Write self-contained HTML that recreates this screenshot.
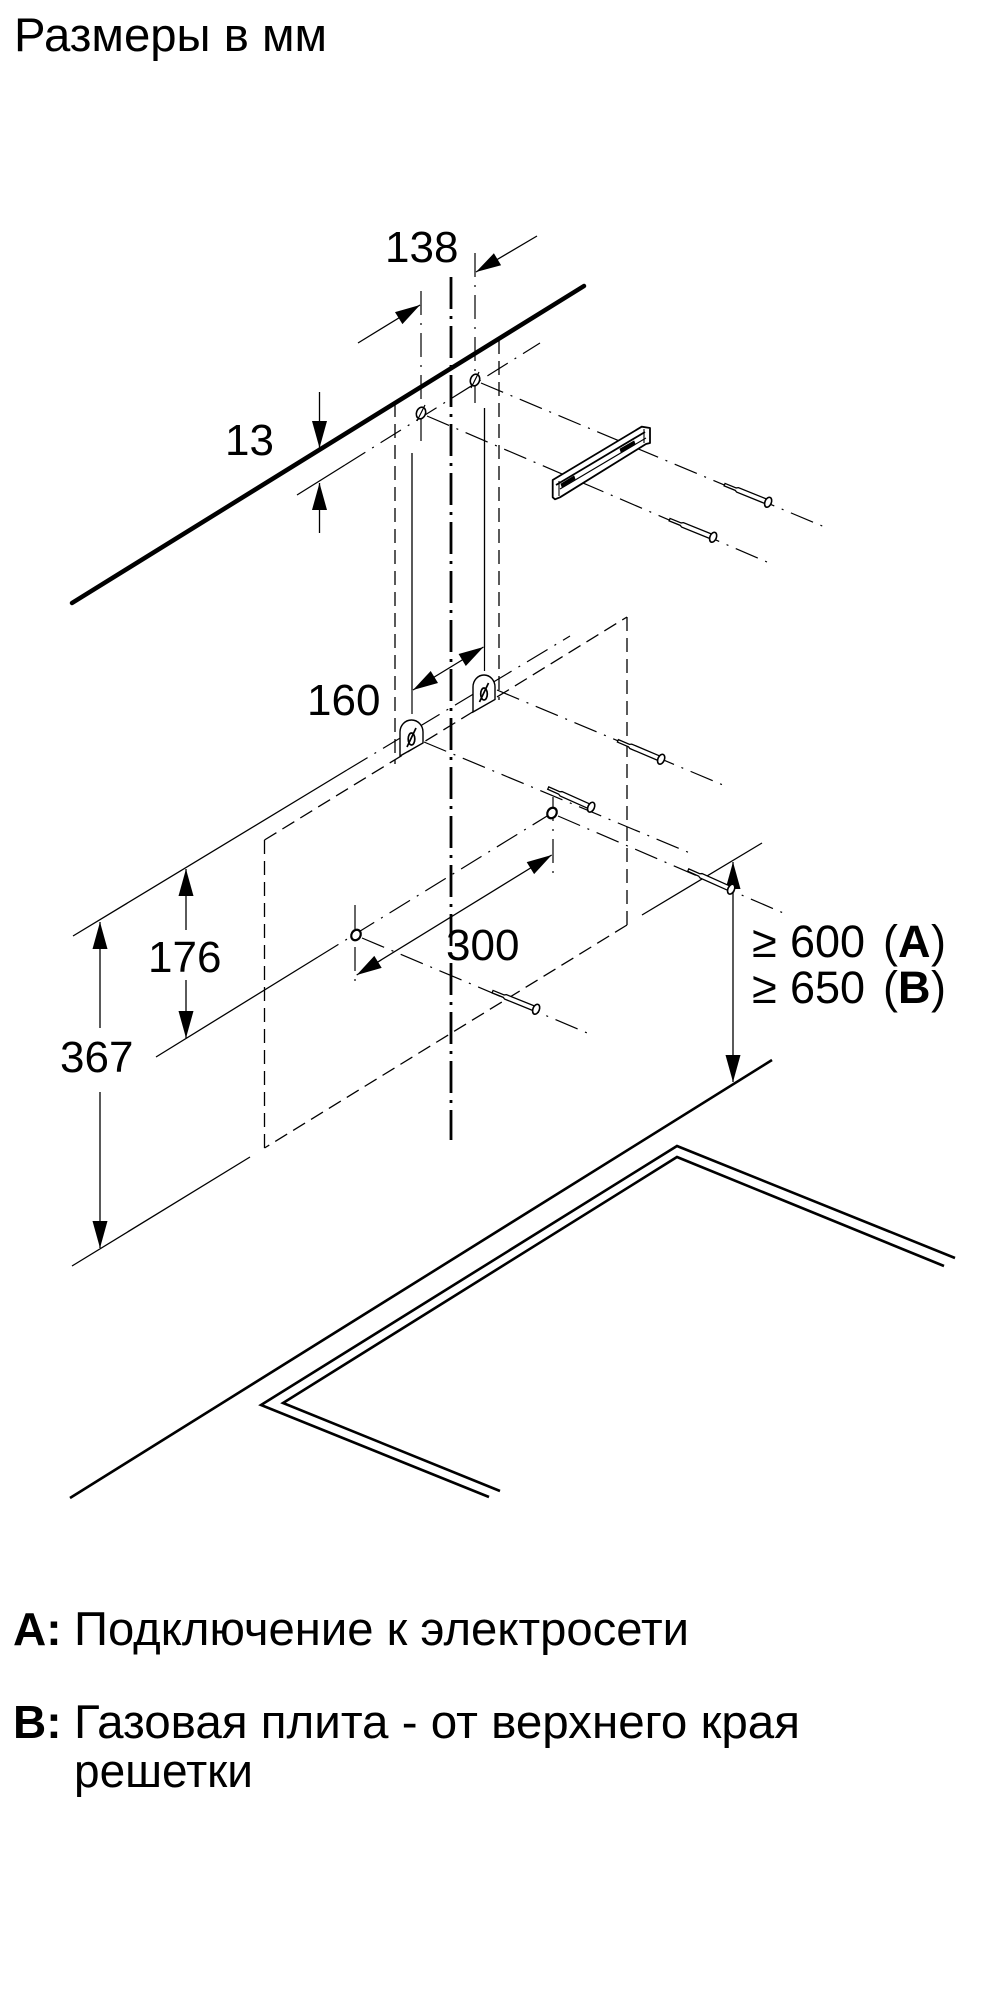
<!DOCTYPE html>
<html>
<head>
<meta charset="utf-8">
<style>
  html,body{margin:0;padding:0;background:#fff;}
  body{width:1000px;height:2000px;overflow:hidden;}
  svg{display:block;}
  .t{font-family:"Liberation Sans",Arial,sans-serif;fill:#000;}
  .ln{stroke:#000;fill:none;stroke-width:1.3;}
  .hd{stroke:#000;fill:none;stroke-width:1.3;stroke-dasharray:14 7;}
  .dd{stroke:#000;fill:none;stroke-width:1.2;stroke-dasharray:24 8 2 8;}
  .cl{stroke:#000;fill:none;stroke-width:2.8;stroke-dasharray:32 7 3 7;}
  .ah{fill:#000;stroke:none;}
</style>
</head>
<body>
<svg width="1000" height="2000" viewBox="0 0 1000 2000" xmlns="http://www.w3.org/2000/svg">

  <!-- Title -->
  <text class="t" x="14" y="51" font-size="47" textLength="313" lengthAdjust="spacingAndGlyphs">Размеры в мм</text>

  <!-- ===== Hidden (dashed) outlines ===== -->
  <line class="hd" x1="395" y1="403" x2="395" y2="764"/>
  <line class="hd" x1="499" y1="340" x2="499" y2="700"/>
  <line class="hd" x1="264.5" y1="840" x2="627" y2="617"/>
  <line class="hd" x1="627" y1="617" x2="627" y2="925"/>
  <line class="hd" x1="627" y1="925" x2="264.5" y2="1148"/>
  <line class="hd" x1="264.5" y1="840" x2="264.5" y2="1148"/>

  <!-- ===== Dash-dot thin lines ===== -->
  <line class="ln" x1="297" y1="495" x2="345" y2="465"/>
  <line class="dd" x1="345" y1="465" x2="540" y2="343"/>
  <line class="dd" x1="421" y1="291" x2="421" y2="442"/>
  <line class="dd" x1="475" y1="253" x2="475" y2="407"/>
  <line class="dd" x1="481" y1="383" x2="827" y2="528"/>
  <line class="dd" x1="427" y1="416" x2="767" y2="562"/>
  <line class="ln" x1="73" y1="936" x2="347" y2="770"/>
  <line class="dd" x1="347" y1="770" x2="570" y2="636"/>
  <line class="dd" x1="497" y1="690" x2="723" y2="785"/>
  <line class="dd" x1="424" y1="742" x2="690" y2="853"/>
  <line class="dd" x1="412" y1="690" x2="412" y2="722"/>
  <line class="dd" x1="484.5" y1="647" x2="484.5" y2="676"/>
  <line class="ln" x1="156" y1="1057" x2="318" y2="957"/>
  <line class="dd" x1="318" y1="957" x2="552" y2="813"/>
  <line class="dd" x1="355" y1="905" x2="355" y2="988"/>
  <line class="dd" x1="553" y1="797" x2="553" y2="874"/>
  <line class="dd" x1="558" y1="816" x2="788" y2="915"/>
  <line class="dd" x1="362" y1="938" x2="592" y2="1035"/>

  <!-- ===== Thin solid lines ===== -->
  <line class="ln" x1="412" y1="453" x2="412" y2="690"/>
  <line class="ln" x1="484.5" y1="408" x2="484.5" y2="647"/>
  <line class="ln" x1="72" y1="1266" x2="250" y2="1157"/>
  <line class="ln" x1="642" y1="915" x2="762" y2="843"/>

  <!-- ===== Centre line ===== -->
  <line class="cl" x1="451" y1="277" x2="451" y2="1140"/>

  <!-- ===== Wall line ===== -->
  <line x1="72" y1="603" x2="584" y2="286" stroke="#000" stroke-width="4.5" stroke-linecap="round"/>

  <!-- ===== Hob ===== -->
  <line x1="70" y1="1498" x2="772" y2="1060" stroke="#000" stroke-width="2.6"/>
  <polyline points="489,1497 261,1405 677,1146 955,1258" fill="none" stroke="#000" stroke-width="2.6" stroke-linejoin="miter"/>
  <polyline points="500,1491 283,1403 677,1157 944,1266" fill="none" stroke="#000" stroke-width="2.6" stroke-linejoin="miter"/>

  <!-- ===== Dimensions ===== -->
  <!-- 13 -->
  <line class="ln" x1="319.5" y1="392" x2="319.5" y2="448"/>
  <polygon class="ah" points="319.5,448 312,421 327,421"/>
  <line class="ln" x1="319.5" y1="483" x2="319.5" y2="533"/>
  <polygon class="ah" points="319.5,483 312,510 327,510"/>
  <text class="t" x="225" y="455" font-size="44">13</text>

  <!-- 138 -->
  <line class="ln" x1="358" y1="343" x2="420" y2="305"/>
  <polygon class="ah" points="420,305 402.4,324.1 395.0,312.1"/>
  <line class="ln" x1="537" y1="236" x2="476" y2="272"/>
  <polygon class="ah" points="476,272 493.9,253.3 501.1,265.3"/>
  <text class="t" x="385" y="262" font-size="44">138</text>

  <!-- 160 -->
  <line class="ln" x1="413" y1="690" x2="483.5" y2="647"/>
  <polygon class="ah" points="413,690 430.7,671.0 438.0,683.0"/>
  <polygon class="ah" points="483.5,647 465.8,666 458.6,654"/>
  <text class="t" x="307" y="715" font-size="44">160</text>

  <!-- 300 -->
  <line class="ln" x1="356.7" y1="975" x2="551.7" y2="855"/>
  <polygon class="ah" points="551.7,855 534.1,874.1 526.7,862.1"/>
  <polygon class="ah" points="356.7,975 374.3,955.9 381.7,967.9"/>
  <text class="t" x="446" y="960" font-size="44">300</text>

  <!-- 176 -->
  <line class="ln" x1="186" y1="869" x2="186" y2="930"/>
  <line class="ln" x1="186" y1="980" x2="186" y2="1038"/>
  <polygon class="ah" points="186,869 178.5,896 193.5,896"/>
  <polygon class="ah" points="186,1038 178.5,1011 193.5,1011"/>
  <text class="t" x="148" y="972" font-size="44">176</text>

  <!-- 367 -->
  <line class="ln" x1="100" y1="922" x2="100" y2="1028"/>
  <line class="ln" x1="100" y1="1092" x2="100" y2="1248"/>
  <polygon class="ah" points="100,922 92.5,949 107.5,949"/>
  <polygon class="ah" points="100,1248 92.5,1221 107.5,1221"/>
  <text class="t" x="60" y="1072" font-size="44">367</text>

  <!-- 600 / 650 -->
  <line class="ln" x1="733" y1="862" x2="733" y2="1082"/>
  <polygon class="ah" points="733,862 725.5,889 740.5,889"/>
  <polygon class="ah" points="733,1082 725.5,1055 740.5,1055"/>
  <text class="t" y="957" font-size="45"><tspan x="752">≥</tspan><tspan x="790">600</tspan><tspan x="883">(</tspan><tspan x="898" font-weight="bold">A</tspan><tspan x="931">)</tspan></text>
  <text class="t" y="1003" font-size="45"><tspan x="752">≥</tspan><tspan x="790">650</tspan><tspan x="883">(</tspan><tspan x="898" font-weight="bold">B</tspan><tspan x="931">)</tspan></text>

  <!-- ===== Holes ===== -->
  <g fill="#fff" stroke="#000" stroke-width="1.6">
    <ellipse cx="421" cy="413" rx="4.5" ry="6" transform="rotate(20 421 413)"/>
    <ellipse cx="475" cy="380" rx="4.5" ry="6" transform="rotate(20 475 380)"/>
  </g>
  <line x1="417" y1="421" x2="425" y2="405" stroke="#000" stroke-width="1.2"/>
  <line x1="471" y1="388" x2="479" y2="372" stroke="#000" stroke-width="1.2"/>
  <g fill="#fff" stroke="#000" stroke-width="2.2">
    <ellipse cx="356" cy="935" rx="4.5" ry="5.5" transform="rotate(30 356 935)"/>
    <ellipse cx="552" cy="813" rx="4.5" ry="5.5" transform="rotate(30 552 813)"/>
  </g>

  <!-- ===== Keyhole plates ===== -->
  <g fill="#fff" stroke="#000" stroke-width="1.4">
    <path d="M400,756 L400,732 A11.5,12 0 0 1 423,732 L423,743 Z"/>
    <path d="M473,712 L473,687 A11,12 0 0 1 495,687 L495,699.5 Z"/>
  </g>
  <g fill="none" stroke="#000" stroke-width="1.7">
    <ellipse cx="411.5" cy="739" rx="3.3" ry="6"/>
    <line x1="407" y1="747" x2="416" y2="728"/>
    <ellipse cx="484" cy="694" rx="3.3" ry="6"/>
    <line x1="479.5" y1="702" x2="488.5" y2="683"/>
  </g>

  <!-- ===== Bracket ===== -->
  <g stroke="#000" stroke-width="1.8" fill="#fff" stroke-linejoin="round">
    <path d="M552.7,480 L641.7,426.7 L650,428 L650,443 L646,444 L560,497.3 L555,499.3 L552.7,497.3 Z"/>
    <path d="M556,485 L645,432" fill="none"/>
    <path d="M560,489 L646,438" fill="none" stroke-width="1.1"/>
    <path d="M559,481 L559,496" fill="none" stroke-width="1.1"/>
    <path d="M644,429 L644,443" fill="none" stroke-width="1.1"/>
    <path d="M561,484 L574,476 L575,479 L562,487 Z" fill="#000" stroke-width="0.8"/>
    <path d="M620,449 L634,441 L635,444 L621,452 Z" fill="#000" stroke-width="0.8"/>
  </g>

  <!-- ===== Screws ===== -->
  <g stroke="#000" stroke-width="1.3" fill="#fff">
    <g transform="translate(770,503) rotate(22)">
      <path d="M-49,-1.3 L-37,-1.3 L-35,-2.4 L-5,-2.4 L-5,2.4 L-35,2.4 L-37,1.3 L-49,1.3 Z"/>
      <ellipse cx="-2" cy="0" rx="3.2" ry="5.2" stroke-width="1.6"/>
    </g>
    <g transform="translate(715,538) rotate(22)">
      <path d="M-49,-1.3 L-37,-1.3 L-35,-2.4 L-5,-2.4 L-5,2.4 L-35,2.4 L-37,1.3 L-49,1.3 Z"/>
      <ellipse cx="-2" cy="0" rx="3.2" ry="5.2" stroke-width="1.6"/>
    </g>
    <g transform="translate(663,760) rotate(23)">
      <path d="M-49,-1.3 L-37,-1.3 L-35,-2.4 L-5,-2.4 L-5,2.4 L-35,2.4 L-37,1.3 L-49,1.3 Z"/>
      <ellipse cx="-2" cy="0" rx="3.2" ry="5.2" stroke-width="1.6"/>
    </g>
    <g transform="translate(593,808) rotate(24)">
      <path d="M-49,-1.3 L-37,-1.3 L-35,-2.4 L-5,-2.4 L-5,2.4 L-35,2.4 L-37,1.3 L-49,1.3 Z"/>
      <ellipse cx="-2" cy="0" rx="3.2" ry="5.2" stroke-width="1.6"/>
    </g>
    <g transform="translate(733,890) rotate(24)">
      <path d="M-49,-1.3 L-37,-1.3 L-35,-2.4 L-5,-2.4 L-5,2.4 L-35,2.4 L-37,1.3 L-49,1.3 Z"/>
      <ellipse cx="-2" cy="0" rx="3.2" ry="5.2" stroke-width="1.6"/>
    </g>
    <g transform="translate(538,1010) rotate(22)">
      <path d="M-49,-1.3 L-37,-1.3 L-35,-2.4 L-5,-2.4 L-5,2.4 L-35,2.4 L-37,1.3 L-49,1.3 Z"/>
      <ellipse cx="-2" cy="0" rx="3.2" ry="5.2" stroke-width="1.6"/>
    </g>
  </g>

  <!-- ===== Legend ===== -->
  <text class="t" x="13" y="1645" font-size="46" font-weight="bold">A:</text>
  <text class="t" x="74" y="1645" font-size="47" textLength="615" lengthAdjust="spacingAndGlyphs">Подключение к электросети</text>
  <text class="t" x="13" y="1738" font-size="46" font-weight="bold">B:</text>
  <text class="t" x="74" y="1738" font-size="47" textLength="726" lengthAdjust="spacingAndGlyphs">Газовая плита - от верхнего края</text>
  <text class="t" x="74" y="1787" font-size="47" textLength="179" lengthAdjust="spacingAndGlyphs">решетки</text>
</svg>
</body>
</html>
